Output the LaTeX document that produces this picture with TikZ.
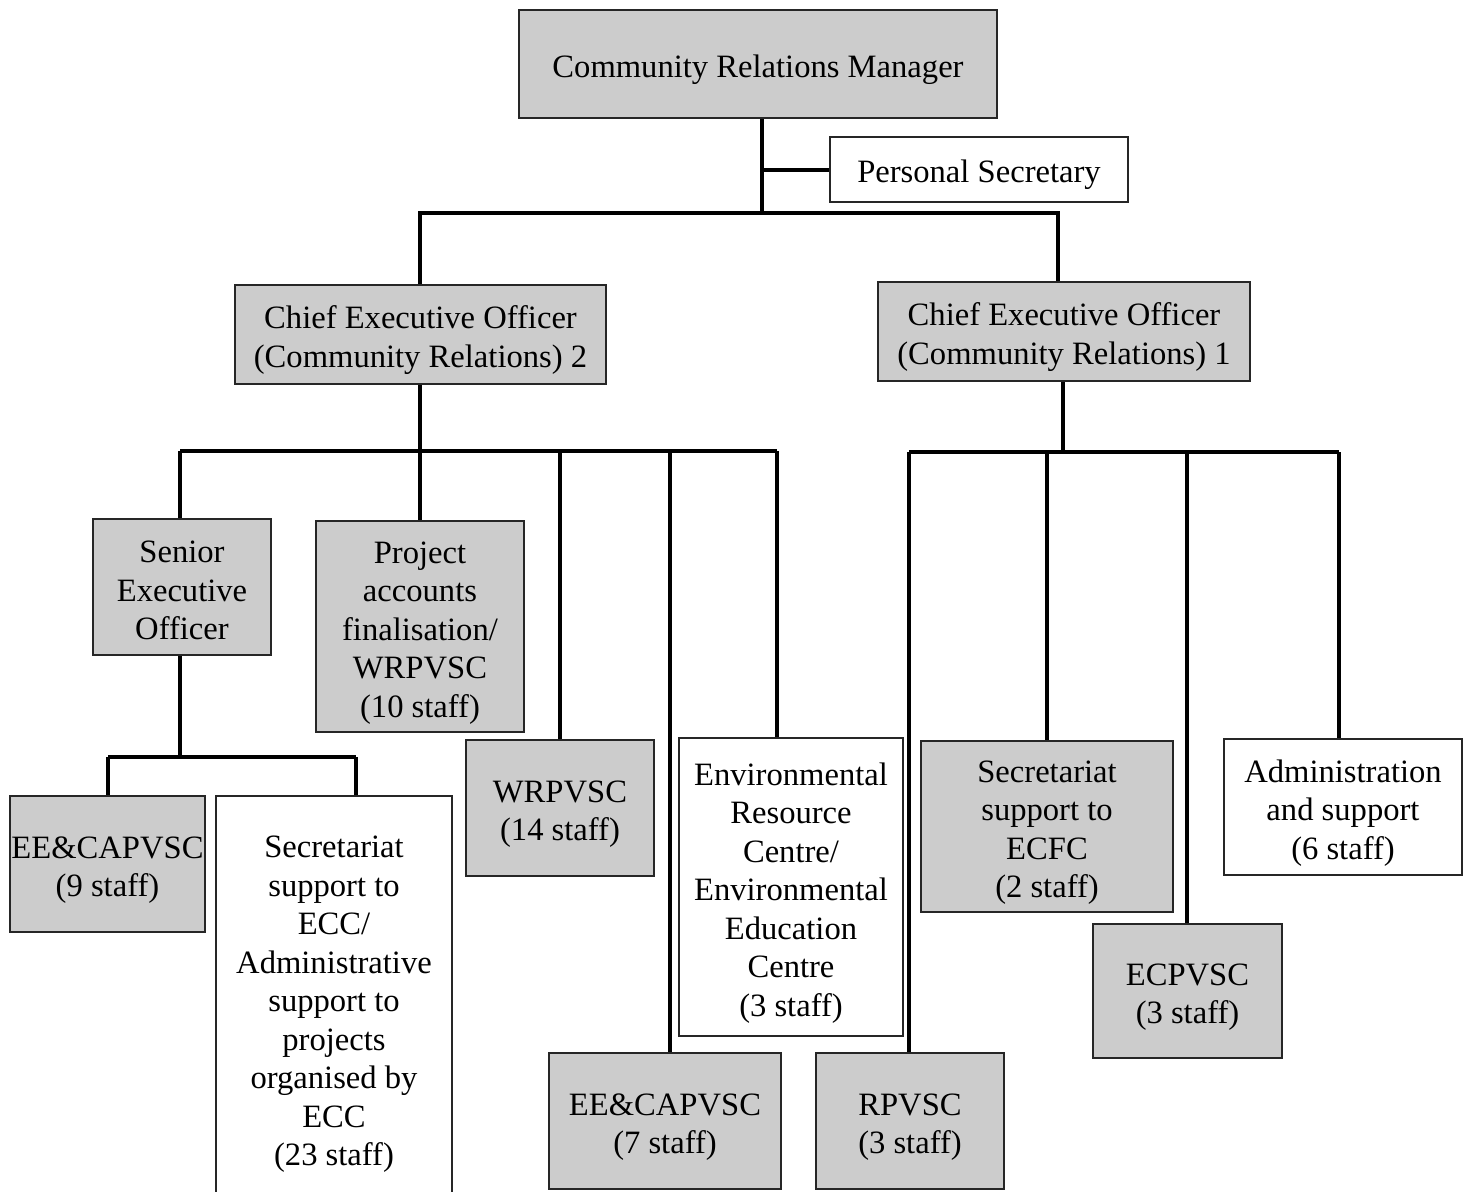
\documentclass[tikz,border=0pt]{standalone}
\usepackage{fontspec}
\setmainfont{Liberation Serif}
\newcommand\tb[1]{\rule{0pt}{17pt}#1\rule[-3pt]{0pt}{3pt}}
\begin{document}
\begin{tikzpicture}[x=0.5pt,y=-0.5pt,
  box/.style={draw=black!85, line width=1.1pt, inner sep=0pt, align=center,
    font=\fontsize{16.3pt}{19.25pt}\selectfont},
  grey/.style={box, fill=gray!40},
  plain/.style={box, fill=white},
  link/.style={line width=1.6pt, black}]
\useasboundingbox (0,0) rectangle (1469,1191);

% nodes
\node[grey, minimum width=239pt, minimum height=54pt] (crm) at (758,64) {\tb{Community Relations Manager}};
\node[plain, minimum width=149pt, minimum height=32.5pt] (ps) at (979,169.5) {\tb{Personal Secretary}};
\node[grey, minimum width=185.5pt, minimum height=49.5pt] (ceo2) at (420.5,334.5) {\tb{Chief Executive Officer\\(Community Relations) 2}};
\node[grey, minimum width=186pt, minimum height=49.5pt] (ceo1) at (1064,331.5) {\tb{Chief Executive Officer\\(Community Relations) 1}};
\node[grey, minimum width=89pt, minimum height=68pt] (seo) at (182,587) {\tb{Senior\\Executive\\Officer}};
\node[grey, minimum width=104pt, minimum height=105.5pt] (proj) at (420,626.5) {\tb{Project\\accounts\\finalisation/\\WRPVSC\\(10 staff)}};
\node[grey, minimum width=97.5pt, minimum height=68pt] (ee9) at (107.5,864) {\tb{EE\&CAPVSC\\(9 staff)}};
\node[plain, minimum width=118pt, minimum height=202pt] (secc) at (334,998) {\tb{Secretariat\\support to\\ECC/\\Administrative\\support to\\projects\\organised by\\ECC\\(23 staff)}};
\node[grey, minimum width=94pt, minimum height=68pt] (wrp) at (560,808) {\tb{WRPVSC\\(14 staff)}};
\node[plain, minimum width=112pt, minimum height=149pt] (erc) at (791,887) {\tb{Environmental\\Resource\\Centre/\\Environmental\\Education\\Centre\\(3 staff)}};
\node[grey, minimum width=116pt, minimum height=68pt] (ee7) at (665,1121) {\tb{EE\&CAPVSC\\(7 staff)}};
\node[grey, minimum width=94pt, minimum height=68pt] (rp) at (910,1121) {\tb{RPVSC\\(3 staff)}};
\node[grey, minimum width=126pt, minimum height=85.5pt] (ecfc) at (1047,826.5) {\tb{Secretariat\\support to\\ECFC\\(2 staff)}};
\node[grey, minimum width=94.5pt, minimum height=67pt] (ecp) at (1187.5,991) {\tb{ECPVSC\\(3 staff)}};
\node[plain, minimum width=119pt, minimum height=68pt] (adm) at (1343,807) {\tb{Administration\\and support\\(6 staff)}};

% junction coordinates
\coordinate (top) at (762,213);
\coordinate (jps) at (762,170);
\coordinate (tl) at (420,213);
\coordinate (tr) at (1058,213);
\coordinate (b2) at (420,451);
\coordinate (b2a) at (180,451);
\coordinate (b2c) at (560,451);
\coordinate (b2d) at (670,451);
\coordinate (b2e) at (777,451);
\coordinate (b1) at (1063,452);
\coordinate (b1a) at (909,452);
\coordinate (b1b) at (1047,452);
\coordinate (b1c) at (1187,452);
\coordinate (b1d) at (1339,452);
\coordinate (s1) at (180,757);
\coordinate (s1a) at (108,757);
\coordinate (s1b) at (356,757);

% connectors
\draw[link] (crm.south -| top) -- (top);
\draw[link] (jps) -- (jps -| ps.west);
\draw[link] (tl |- ceo2.north) -- (tl) -- (tr) -- (tr |- ceo1.north);

\draw[link] (ceo2.south -| b2) -- (b2);
\draw[link] (b2a) -- (b2e);
\draw[link] (b2a) -- (b2a |- seo.north);
\draw[link] (b2) -- (b2 |- proj.north);
\draw[link] (b2c) -- (b2c |- wrp.north);
\draw[link] (b2d) -- (b2d |- ee7.north);
\draw[link] (b2e) -- (b2e |- erc.north);

\draw[link] (ceo1.south -| b1) -- (b1);
\draw[link] (b1a) -- (b1d);
\draw[link] (b1a) -- (b1a |- rp.north);
\draw[link] (b1b) -- (b1b |- ecfc.north);
\draw[link] (b1c) -- (b1c |- ecp.north);
\draw[link] (b1d) -- (b1d |- adm.north);

\draw[link] (seo.south -| s1) -- (s1);
\draw[link] (s1a) -- (s1b);
\draw[link] (s1a) -- (s1a |- ee9.north);
\draw[link] (s1b) -- (s1b |- secc.north);
\end{tikzpicture}
\end{document}
